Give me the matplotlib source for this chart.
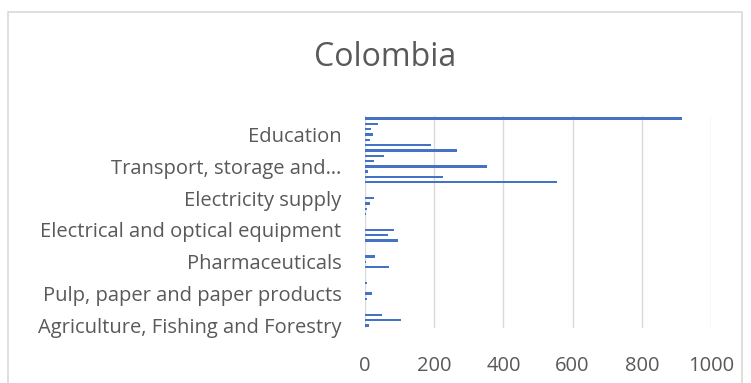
import matplotlib.pyplot as plt
from matplotlib.patches import Rectangle

plt.rcParams['font.family'] = ['Open Sans', 'DejaVu Sans']

# sectors in chart order (first one at the bottom)
sectors = [
    "Agriculture, Fishing and Forestry", "Mining and quarrying", "Food products, beverages and tobacco",
    "Textiles, leather and footwear", "Wood and products of wood and cork", "Printing and publishing",
    "Pulp, paper and paper products", "Coke and refined petroleum products", "Chemicals excluding pharmaceuticals",
    "Rubber and plastics products", "Other non-metallic mineral products", "Basic metals",
    "Pharmaceuticals", "Fabricated metal products", "Machinery and equipment n.e.c",
    "Computer and electronic equipment", "Electrical machinery", "Motor vehicles and trailers",
    "Electrical and optical equipment", "Other transport equipment", "Manufacturing n.e.c; recycling",
    "Gas and water supply", "Construction", "Wholesale and retail trade",
    "Electricity supply", "Hotels and restaurants", "Transport and storage",
    "Post and telecommunications", "Financial intermediation", "Real estate activities",
    "Transport, storage and communications", "Renting of machinery and equipment", "Computer and related activities",
    "R&D and other business activities", "Public admin. and defence", "Health and social work",
    "Education", "Other community and personal services", "Private households", "Total services",
]
values = [
    12, 103, 48, 1, 1, 5, 19, 0, 5, 1,
    0, 70, 3, 28, 1, 0, 95, 67, 83, 0.5,
    0, 3, 6, 14, 25, 1, 1, 556, 225, 8,
    353, 25, 54, 266, 190, 14, 22, 18, 39, 917,
]
# the chart only labels every 6th sector
labelled = [0, 6, 12, 18, 24, 30, 36]
tick_labels = ["Agriculture, Fishing and Forestry", "Pulp, paper and paper products", "Pharmaceuticals",
               "Electrical and optical equipment", "Electricity supply", "Transport, storage and…", "Education"]
x_ticks = [0, 200, 400, 600, 800, 1000]

grey = "#595959"

fig = plt.figure(figsize=(7.51, 3.83), dpi=100)
# chart area border
fig.patches.append(Rectangle((8 / 751, -0.05), 734 / 751, 1 - 12 / 383 + 0.05, transform=fig.transFigure,
                             fill=False, edgecolor="#d9d9d9", linewidth=1.2))

ax = fig.add_axes([365 / 751, 1 - 328 / 383, 346 / 751, 212 / 383])
ax.barh(range(len(values)), values, height=0.45, color="#4472C4")
ax.set_xlim(0, 1000)
ax.set_ylim(-0.5, len(values) - 0.5)
ax.set_xticks(x_ticks)
ax.set_xticklabels([str(t) for t in x_ticks])
ax.set_yticks(labelled)
ax.set_yticklabels(tick_labels)
ax.tick_params(axis='x', length=0, pad=20, labelsize=14.5, colors=grey)
ax.tick_params(axis='y', length=0, pad=17, labelsize=14.5, colors=grey)
ax.grid(axis='x', color="#d9d9d9", linewidth=1)
ax.set_axisbelow(True)
for s in ax.spines.values():
    s.set_visible(False)

fig.text(385 / 751, 1 - 57 / 383, "Colombia", ha='center', va='center', fontsize=23, color=grey)

fig.savefig("out.png", dpi=100)
